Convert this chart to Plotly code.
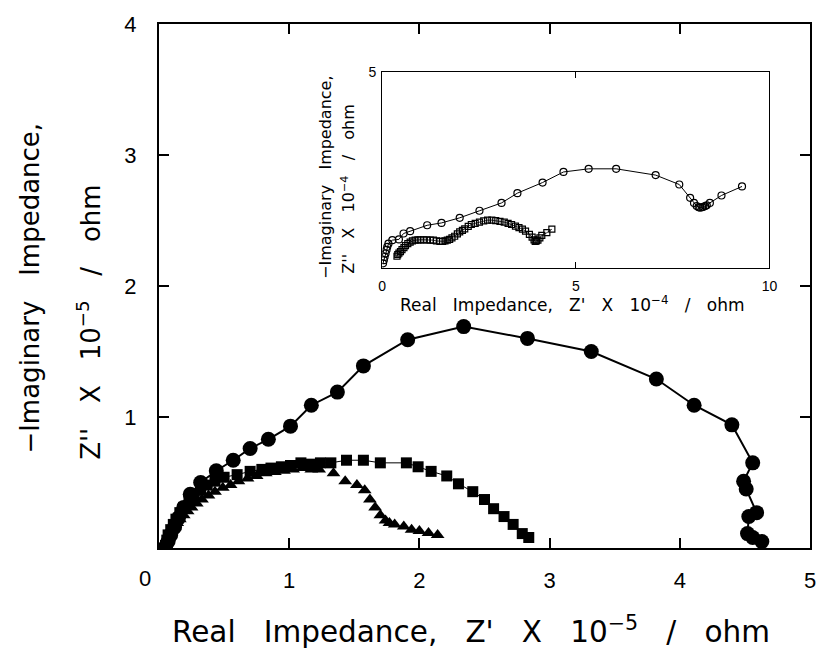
import plotly.graph_objects as go

# ---------------- main plot data (x10^-5 ohm) ----------------
circ_x = [0.05, 0.07, 0.09, 0.12, 0.15, 0.19, 0.24, 0.32, 0.44, 0.57, 0.70, 0.84, 1.01, 1.17, 1.37,
          1.57, 1.91, 2.34, 2.83, 3.32, 3.82, 4.11, 4.40, 4.56, 4.49, 4.51, 4.59, 4.53, 4.52, 4.56, 4.63]
circ_y = [0.01, 0.05, 0.10, 0.16, 0.23, 0.31, 0.41, 0.50, 0.59, 0.67, 0.76, 0.83, 0.93, 1.09, 1.19,
          1.39, 1.59, 1.69, 1.60, 1.50, 1.29, 1.09, 0.94, 0.65, 0.51, 0.45, 0.27, 0.24, 0.11, 0.08, 0.05]

sq_x = [0.05, 0.06, 0.07, 0.09, 0.11, 0.13, 0.16, 0.19, 0.23, 0.27, 0.32, 0.37, 0.43, 0.50, 0.60,
        0.70, 0.79, 0.86, 0.94, 1.01, 1.09, 1.17, 1.24, 1.32, 1.44, 1.57, 1.70, 1.90, 1.99, 2.09,
        2.21, 2.30, 2.41, 2.50, 2.57, 2.65, 2.72, 2.79, 2.84]
sq_y = [0.02, 0.06, 0.10, 0.14, 0.18, 0.22, 0.27, 0.31, 0.36, 0.40, 0.44, 0.48, 0.51, 0.54, 0.56,
        0.585, 0.60, 0.61, 0.62, 0.63, 0.65, 0.64, 0.65, 0.65, 0.67, 0.67, 0.65, 0.65, 0.62, 0.585,
        0.55, 0.49, 0.43, 0.37, 0.30, 0.24, 0.18, 0.11, 0.08]

tri_x = [0.05, 0.06, 0.07, 0.08, 0.10, 0.12, 0.14, 0.16, 0.19, 0.22, 0.25, 0.29, 0.33, 0.38, 0.43,
         0.49, 0.55, 0.61, 0.68, 0.75, 0.82, 0.89, 0.96, 1.03, 1.10, 1.17, 1.23, 1.34, 1.43, 1.52,
         1.58, 1.62, 1.66, 1.70, 1.74, 1.77, 1.81, 1.88, 1.94, 2.00, 2.07, 2.14]
tri_y = [0.01, 0.04, 0.07, 0.10, 0.13, 0.16, 0.19, 0.22, 0.25, 0.28, 0.31, 0.34, 0.37, 0.40, 0.43,
         0.46, 0.48, 0.51, 0.53, 0.55, 0.57, 0.58, 0.59, 0.60, 0.61, 0.60, 0.60, 0.57, 0.51, 0.48,
         0.44, 0.37, 0.31, 0.25, 0.21, 0.19, 0.18, 0.165, 0.14, 0.13, 0.115, 0.10]

# ---------------- inset data (x10^-4 ohm) ----------------
in_circ_x = [0.02, 0.04, 0.06, 0.085, 0.11, 0.13, 0.16, 0.26, 0.43, 0.55, 0.72, 1.16, 1.53, 2.00,
             2.51, 3.08, 3.49, 4.14, 4.68, 5.33, 6.04, 7.06, 7.67, 7.95, 8.05, 8.12, 8.17, 8.21,
             8.26, 8.29, 8.34, 8.38, 8.46, 8.76, 9.29]
in_circ_y = [0.12, 0.20, 0.28, 0.37, 0.46, 0.54, 0.62, 0.71, 0.73, 0.88, 0.94, 1.09, 1.15, 1.28,
             1.46, 1.66, 1.91, 2.18, 2.45, 2.53, 2.53, 2.37, 2.13, 1.79, 1.66, 1.58, 1.55, 1.54,
             1.55, 1.56, 1.58, 1.60, 1.66, 1.85, 2.08]

in_sq_x = [0.38, 0.40, 0.43, 0.47, 0.51, 0.56, 0.60, 0.66, 0.72, 0.78, 0.85, 0.92, 0.98, 1.06,
           1.15, 1.24, 1.32, 1.40, 1.49, 1.56, 1.62, 1.68, 1.74, 1.80, 1.87, 1.94, 2.00, 2.07,
           2.13, 2.22, 2.30, 2.40, 2.51, 2.62, 2.72, 2.83, 2.93, 3.04, 3.15, 3.25, 3.34, 3.44,
           3.53, 3.62, 3.70, 3.80, 3.87, 3.92, 3.95, 3.98, 4.02, 4.07, 4.12, 4.25, 4.38]
in_sq_y = [0.30, 0.34, 0.38, 0.42, 0.47, 0.52, 0.57, 0.62, 0.66, 0.69, 0.71, 0.72, 0.72, 0.72,
           0.72, 0.71, 0.71, 0.69, 0.68, 0.68, 0.69, 0.71, 0.73, 0.77, 0.81, 0.87, 0.92, 0.96,
           1.00, 1.06, 1.11, 1.14, 1.17, 1.20, 1.22, 1.22, 1.21, 1.19, 1.17, 1.14, 1.11, 1.07,
           1.03, 0.99, 0.94, 0.86, 0.79, 0.72, 0.68, 0.69, 0.71, 0.77, 0.83, 0.90, 0.99]

main_xticks = [1, 2, 3, 4, 5]
main_yticks = [1, 2, 3, 4]
inset_xticks = [0, 5, 10]
inset_yticks = [5]

W, H = 823, 651
L, R, T, B = 159, 818, 24, 548   # main plot area in pixels


def px(x):
    return (x - L) / (R - L)


def py(y):
    return (B - y) / (B - T)


FONT = "Liberation Sans"
TFONT = "DejaVu Sans"
fig = go.Figure()

fig.add_trace(go.Scatter(x=circ_x, y=circ_y, mode="lines+markers",
                         line=dict(color="black", width=2),
                         marker=dict(symbol="circle", size=15, color="black"),
                         showlegend=False))
fig.add_trace(go.Scatter(x=sq_x, y=sq_y, mode="lines+markers",
                         line=dict(color="black", width=1),
                         marker=dict(symbol="square", size=11, color="black"),
                         showlegend=False))
fig.add_trace(go.Scatter(x=tri_x, y=tri_y, mode="markers",
                         marker=dict(symbol="triangle-up", size=12, color="black"),
                         showlegend=False))

fig.add_trace(go.Scatter(x=in_circ_x, y=in_circ_y, mode="lines+markers", xaxis="x2", yaxis="y2",
                         line=dict(color="black", width=1),
                         marker=dict(symbol="circle-open", size=7, color="black", line=dict(width=1.2)),
                         showlegend=False))
fig.add_trace(go.Scatter(x=in_sq_x, y=in_sq_y, mode="lines+markers", xaxis="x2", yaxis="y2",
                         line=dict(color="black", width=0.8),
                         marker=dict(symbol="square-open", size=6, color="black", line=dict(width=1.2)),
                         showlegend=False))

axis_common = dict(showline=True, linecolor="black", linewidth=2, mirror="ticks",
                   ticks="inside", ticklen=10, tickwidth=2, tickcolor="black",
                   showgrid=False, zeroline=False)

fig.update_layout(
    width=W, height=H,
    margin=dict(l=L, r=W - R, t=T, b=H - B),
    paper_bgcolor="white", plot_bgcolor="white",
    xaxis=dict(range=[0, 5], tickvals=main_xticks, ticktext=[str(v) for v in main_xticks],
               tickfont=dict(family=FONT, size=22, color="black"), ticklabelstandoff=12,
               **axis_common),
    yaxis=dict(range=[0, 4], tickvals=main_yticks, ticktext=[str(v) for v in main_yticks],
               tickfont=dict(family=FONT, size=22, color="black"), ticklabelstandoff=16,
               **axis_common),
    xaxis2=dict(range=[0, 10], domain=[px(385), px(777)], anchor="y2",
                tickvals=inset_xticks, ticktext=[str(v) for v in inset_xticks],
                tickfont=dict(family=FONT, size=14, color="black"), ticklabelstandoff=5,
                showline=True, linecolor="black", linewidth=1.2, mirror="ticks",
                ticks="inside", ticklen=6, tickwidth=1.2, tickcolor="black",
                showgrid=False, zeroline=False),
    yaxis2=dict(range=[0, 5], domain=[py(268), py(72)], anchor="x2",
                tickvals=inset_yticks, ticktext=[str(v) for v in inset_yticks],
                tickfont=dict(family=FONT, size=14, color="black"), ticklabelstandoff=2,
                showline=True, linecolor="black", linewidth=1.2, mirror=True,
                ticks="", showgrid=False, zeroline=False),
)

nb = "\u00a0"
g = nb * 3
ann = []


def add_text(x, y, text, size, family, angle=0):
    ann.append(dict(x=px(x), y=py(y), xref="paper", yref="paper", text=text, showarrow=False,
                    xanchor="center", yanchor="middle", textangle=angle,
                    font=dict(family=family, size=size, color="black")))


# corner zero label of the main plot
add_text(145, 578, "0", 22, FONT)
# main x title
add_text(475, 630, f"Real{g}Impedance,{g}Z'{g}X{g}10<sup>−5</sup>{g}/{g}ohm", 29.5, TFONT)
# main y title (two lines, bottom aligned)
add_text(28, 288, f"−Imaginary{g}Impedance,", 26, TFONT, -90)
add_text(88, 322, f"Z''{g}X{g}10<sup>−5</sup>{g}/{g}ohm", 26, TFONT, -90)
# inset x title
add_text(578, 304, f"Real{g}Impedance,{g}Z'{g}X{g}10<sup>−4</sup>{g}/{g}ohm", 17, TFONT)
# inset y title
add_text(327, 177, f"−Imaginary{g}Impedance,", 16, TFONT, -90)
add_text(350, 189, f"Z''{g}X{g}10<sup>−4</sup>{g}/{g}ohm", 16, TFONT, -90)
fig.update_layout(annotations=ann)

fig.write_html("out.html")
